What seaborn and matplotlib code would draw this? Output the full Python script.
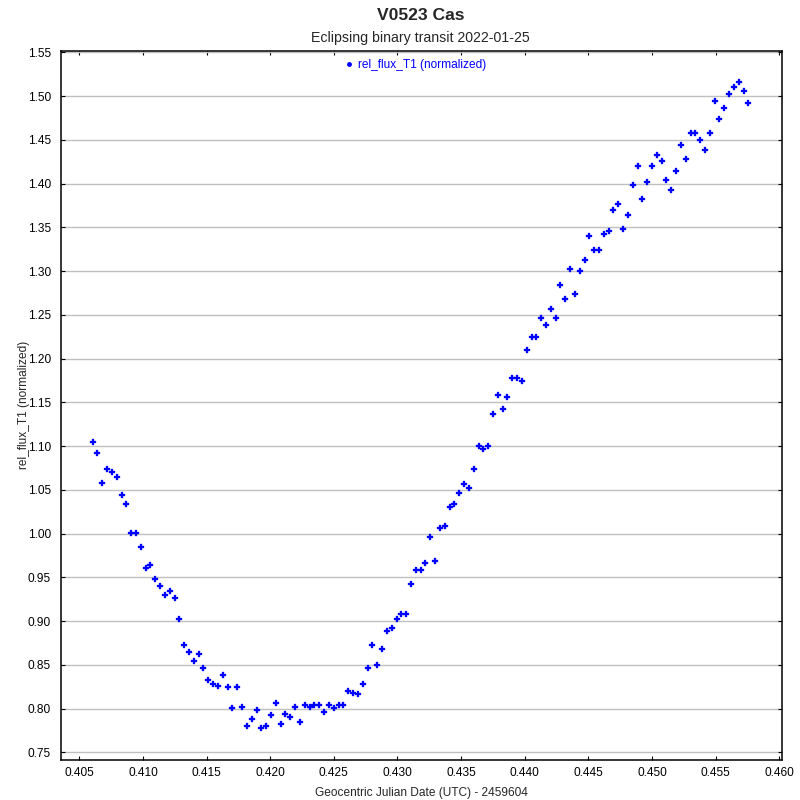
import matplotlib
matplotlib.use("Agg")
import matplotlib.pyplot as plt
from matplotlib.lines import Line2D
import seaborn as sns
import pandas as pd

# Geocentric Julian Date (UTC) - 2459604
jd = [
    0.40605, 0.40637, 0.40676, 0.40715, 0.40755, 0.40794, 0.40833, 0.40865, 0.40904, 0.40943,
    0.40982, 0.41022, 0.41053, 0.41092, 0.41132, 0.41171, 0.41210, 0.41250, 0.41281, 0.41320,
    0.41360, 0.41399, 0.41438, 0.41470, 0.41509, 0.41548, 0.41587, 0.41627, 0.41666, 0.41697,
    0.41737, 0.41776, 0.41815, 0.41855, 0.41894, 0.41925, 0.41965, 0.42004, 0.42043, 0.42082,
    0.42114, 0.42153, 0.42192, 0.42232, 0.42271, 0.42310, 0.42342, 0.42381, 0.42420, 0.42460,
    0.42499, 0.42538, 0.42570, 0.42609, 0.42648, 0.42687, 0.42727, 0.42766, 0.42797, 0.42837,
    0.42876, 0.42915, 0.42955, 0.42994, 0.43025, 0.43065, 0.43104, 0.43143, 0.43182, 0.43214,
    0.43253, 0.43292, 0.43332, 0.43371, 0.43410, 0.43442, 0.43481, 0.43520, 0.43560, 0.43599,
    0.43638, 0.43670, 0.43709, 0.43748, 0.43787, 0.43827, 0.43858, 0.43897, 0.43937, 0.43976,
    0.44015, 0.44055, 0.44086, 0.44125, 0.44165, 0.44204, 0.44243, 0.44275, 0.44314, 0.44353,
    0.44392, 0.44432, 0.44471, 0.44502, 0.44542, 0.44581, 0.44620, 0.44660, 0.44691, 0.44730,
    0.44770, 0.44809, 0.44848, 0.44887, 0.44919, 0.44958, 0.44997, 0.45037, 0.45076, 0.45107,
    0.45147, 0.45186, 0.45225, 0.45265, 0.45304, 0.45335, 0.45375, 0.45414, 0.45453, 0.45492,
    0.45524, 0.45563, 0.45602, 0.45642, 0.45681, 0.45720, 0.45752,
]

# rel_flux_T1 (normalized)
rel_flux = [
    1.1049, 1.0915, 1.0572, 1.0740, 1.0698, 1.0641, 1.0446, 1.0343, 1.0009, 1.0009,
    0.9841, 0.9601, 0.9646, 0.9486, 0.9395, 0.9303, 0.9349, 0.9258, 0.9022, 0.8721,
    0.8641, 0.8549, 0.8618, 0.8458, 0.8321, 0.8275, 0.8263, 0.8378, 0.8241, 0.8001,
    0.8241, 0.8023, 0.7795, 0.7886, 0.7978, 0.7783, 0.7795, 0.7921, 0.8058, 0.7818,
    0.7943, 0.7898, 0.8023, 0.7841, 0.8035, 0.8023, 0.8035, 0.8035, 0.7966, 0.8046,
    0.8001, 0.8035, 0.8035, 0.8195, 0.8172, 0.8161, 0.8275, 0.8458, 0.8721, 0.8503,
    0.8675, 0.8881, 0.8926, 0.9029, 0.9086, 0.9086, 0.9429, 0.9589, 0.9589, 0.9669,
    0.9955, 0.9681, 1.0058, 1.0081, 1.0298, 1.0343, 1.0469, 1.0561, 1.0526, 1.0743,
    1.0995, 1.0961, 1.0995, 1.1361, 1.1589, 1.1418, 1.1566, 1.1772, 1.1783, 1.1749,
    1.2103, 1.2241, 1.2241, 1.2469, 1.2389, 1.2561, 1.2458, 1.2835, 1.2686, 1.3029,
    1.2732, 1.3006, 1.3121, 1.3395, 1.3246, 1.3235, 1.3429, 1.3463, 1.3692, 1.3761,
    1.3486, 1.3635, 1.3989, 1.4195, 1.3818, 1.4023, 1.4206, 1.4321, 1.4252, 1.4035,
    1.3921, 1.4138, 1.4446, 1.4286, 1.4583, 1.4572, 1.4492, 1.4389, 1.4583, 1.4938,
    1.4732, 1.4858, 1.5018, 1.5098, 1.5155, 1.5063, 1.4915,
]

title = "V0523 Cas"
subtitle = "Eclipsing binary transit 2022-01-25"
series_label = "rel_flux_T1 (normalized)"
x_label = "Geocentric Julian Date (UTC) - 2459604"
y_label = "rel_flux_T1 (normalized)"
x_ticks = [0.405, 0.410, 0.415, 0.420, 0.425, 0.430, 0.435, 0.440, 0.445, 0.450, 0.455, 0.460]
y_ticks = [0.75, 0.80, 0.85, 0.90, 0.95, 1.00, 1.05, 1.10, 1.15, 1.20, 1.25, 1.30, 1.35, 1.40, 1.45, 1.50, 1.55]

df = pd.DataFrame({"jd": jd, "flux": rel_flux})

sns.set_style("white")
plt.rcParams["font.family"] = ["Liberation Sans", "DejaVu Sans"]

fig = plt.figure(figsize=(8, 8), dpi=100)
ax = fig.add_axes([0.0759, 0.05, 0.902, 0.8866])

blue = "#0000ff"
sns.scatterplot(data=df, x="jd", y="flux", ax=ax, marker="P", s=15,
                color=blue, edgecolor=blue, linewidth=0.2, legend=False, zorder=3)

ax.set_xlim(0.40354, 0.46024)
ax.set_ylim(0.7412, 1.5518)
ax.set_xticks(x_ticks)
ax.set_xticklabels([f"{t:.3f}" for t in x_ticks])
ax.set_yticks(y_ticks)
ax.set_yticklabels([f"{t:.2f}" for t in y_ticks])

ax.yaxis.grid(True, color="#c0c0c0", linewidth=1.0, zorder=0)
ax.xaxis.grid(False)
ax.set_axisbelow(True)

for sp in ax.spines.values():
    sp.set_color("black")
    sp.set_linewidth(1.1)
    sp.set_visible(True)

ax.tick_params(axis="both", which="major", direction="in", length=3, width=0.8,
               colors="black", labelsize=8.6, top=True, right=True, bottom=True, left=True)
ax.tick_params(axis="x", pad=5)
ax.tick_params(axis="y", pad=7)

ax.set_xlabel(x_label, fontsize=8.6, labelpad=6)
ax.set_ylabel(y_label, fontsize=8.6, labelpad=-1.5)

fig.text(0.526, 0.980, title, ha="center", va="center", fontsize=12.6, fontweight="bold")
fig.text(0.526, 0.953, subtitle, ha="center", va="center", fontsize=10.2)

handle = Line2D([], [], linestyle="none", marker="o", markersize=2.5,
                color=blue, markeredgecolor=blue)
leg = ax.legend([handle], [series_label], loc="upper center", bbox_to_anchor=(0.491, 1.0),
                frameon=False, fontsize=8.6, handletextpad=0.4, handlelength=0.8,
                borderaxespad=0.3, labelcolor=blue)

fig.savefig("out.png", dpi=100)
